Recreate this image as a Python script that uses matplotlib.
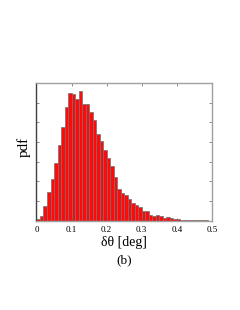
import matplotlib
matplotlib.use("Agg")
import matplotlib.pyplot as plt
import numpy as np

bin_edges_start = 0.0
bin_width = 0.01
heights = [1.7, 4.3, 14.3, 28.3, 41.7, 57.7, 76, 94, 114, 128,
           127, 122, 130, 117, 117, 109, 101, 87, 80, 71,
           63, 55, 44, 32, 28, 26, 22, 18, 16, 14,
           10, 10, 5.5, 5, 6, 4.5, 3, 3.3, 2.7, 2,
           1.5, 1.2, 1, 0.8, 0.6, 0.5, 0.4, 0.3, 0.3, 0.2]
xticks = [0, 0.1, 0.2, 0.3, 0.4, 0.5]
xticklabels = ["0", "0.1", "0.2", "0.3", "0.4", "0.5"]

plt.rcParams['font.family'] = ['Liberation Serif', 'DejaVu Serif']

fig = plt.figure(figsize=(2.4, 3.1), dpi=100)
ax = fig.add_axes([0.152, 0.288, 0.731, 0.444])
lefts = bin_edges_start + bin_width * np.arange(len(heights))
ax.bar(lefts, heights, width=bin_width, align='edge', color='#ff0a0a',
       edgecolor='#707070', linewidth=0.5)
ax.set_xlim(0, 0.5)
ymax = 138
ax.set_ylim(0, ymax)
ax.set_yticks(np.linspace(0, ymax, 8))
ax.set_yticklabels([])
ax.set_xticks(xticks)
ax.set_xticklabels(xticklabels, fontsize=6.5)
ax.tick_params(direction='in', length=2, width=0.5, color='#606060',
               top=True, right=True, pad=4)
for s in ax.spines.values():
    s.set_color('#a0a0a0')
    s.set_linewidth(1.0)
ax.spines['left'].set_color('#404040')
ax.set_ylabel('pdf', fontsize=11)
ax.yaxis.set_label_coords(-0.035, 0.535)
ax.set_xlabel('δθ [deg]', fontsize=10, labelpad=1.5)
fig.text(0.519, 0.159, '(b)', ha='center', va='center', fontsize=9.5)
fig.savefig('out.png', dpi=100)
